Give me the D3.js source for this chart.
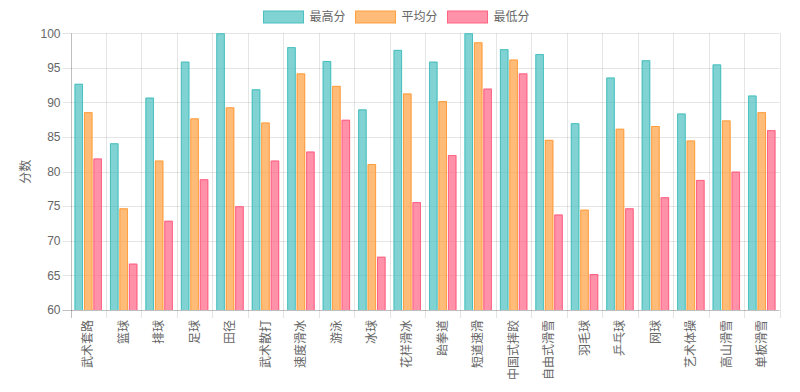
<!DOCTYPE html>
<html>
<head>
<meta charset="utf-8">
<script src="https://cdn.jsdelivr.net/npm/d3@7"></script>
<style>
  body { margin: 0; background: #fff; }
  text { font-family: "Liberation Sans", Arial, "Noto Sans CJK SC", sans-serif; fill: #666; }
</style>
</head>
<body>
<div id="chart"></div>
<script>
"use strict";

const categories = ["武术套路", "篮球", "排球", "足球", "田径", "武术散打", "速度滑冰", "游泳", "冰球", "花样滑冰",
  "跆拳道", "短道速滑", "中国式摔跤", "自由式滑雪", "羽毛球", "乒乓球", "网球", "艺术体操", "高山滑雪", "单板滑雪"];
const maxScores = [92.7, 84.1, 90.7, 95.9, 100, 91.9, 98.0, 96.0, 89.0, 97.6,
  95.9, 100, 97.7, 97.0, 87.0, 93.6, 96.1, 88.4, 95.5, 91.0];
const avgScores = [88.6, 74.7, 81.6, 87.7, 89.3, 87.1, 94.2, 92.4, 81.1, 91.3,
  90.2, 98.7, 96.2, 84.6, 74.5, 86.2, 86.6, 84.5, 87.4, 88.6];
const minScores = [81.9, 66.7, 72.9, 78.9, 75.0, 81.6, 82.9, 87.5, 67.7, 75.6,
  82.4, 92.0, 94.2, 73.8, 65.2, 74.7, 76.3, 78.8, 80.0, 86.0];
const seriesNames = ["最高分", "平均分", "最低分"];
const yTicks = [60, 65, 70, 75, 80, 85, 90, 95, 100];

const seriesColors = ["rgb(75,192,192)", "rgb(255,159,64)", "rgb(255,99,132)"];
const seriesFills = ["rgba(75,192,192,0.7)", "rgba(255,159,64,0.7)", "rgba(255,99,132,0.7)"];
const seriesValues = [maxScores, avgScores, minScores];

const width = 800, height = 392;
const plotLeft = 70.5, plotRight = 779.5, plotTop = 33.3, plotBottom = 310;

const svg = d3.select("#chart").append("svg")
  .attr("width", width)
  .attr("height", height);

const x0 = d3.scaleBand().domain(categories).range([plotLeft, plotRight]);
const bw = x0.bandwidth();
const x1 = d3.scaleBand().domain(seriesNames)
  .range([bw * 0.1, bw * 0.9])
  .paddingInner(0.1).paddingOuter(0.05);
const y = d3.scaleLinear().domain([60, 100]).range([plotBottom, plotTop]);

// horizontal grid
const grid = svg.append("g");
grid.selectAll("line.h").data(yTicks).enter().append("line")
  .attr("x1", plotLeft - 8).attr("x2", plotRight)
  .attr("y1", d => Math.round(y(d)) + 0.5).attr("y2", d => Math.round(y(d)) + 0.5)
  .attr("stroke", d => d === 60 ? "rgba(0,0,0,0.25)" : "rgba(0,0,0,0.1)");

// vertical grid
const vx = categories.map(c => x0(c)).concat([plotRight]);
grid.selectAll("line.v").data(vx).enter().append("line")
  .attr("x1", d => Math.round(d) + 0.5).attr("x2", d => Math.round(d) + 0.5)
  .attr("y1", plotTop).attr("y2", plotBottom + 8)
  .attr("stroke", (d, i) => i === 0 ? "rgba(0,0,0,0.25)" : "rgba(0,0,0,0.1)");

// y tick labels
svg.append("g").selectAll("text").data(yTicks).enter().append("text")
  .attr("x", plotLeft - 10)
  .attr("y", d => y(d))
  .attr("dy", "0.35em")
  .attr("text-anchor", "end")
  .style("font-size", "12px")
  .text(d => d);

// y title
svg.append("text")
  .attr("transform", "translate(30," + ((plotTop + plotBottom) / 2) + ") rotate(-90)")
  .attr("text-anchor", "middle")
  .style("font-size", "12px")
  .text("分数");

// x labels
svg.append("g").selectAll("text").data(categories).enter().append("text")
  .attr("transform", d => "translate(" + (x0(d) + bw / 2) + "," + (plotBottom + 10) + ") rotate(-90)")
  .attr("text-anchor", "end")
  .attr("dy", "0.35em")
  .style("font-size", "12px")
  .text(d => d);

// bars
seriesNames.forEach((name, si) => {
  const g = svg.append("g");
  const vals = seriesValues[si];
  const bars = g.selectAll("g").data(categories).enter().append("g");
  bars.append("rect")
    .attr("x", d => x0(d) + x1(name))
    .attr("y", (d, i) => y(vals[i]))
    .attr("width", x1.bandwidth())
    .attr("height", (d, i) => plotBottom - y(vals[i]))
    .attr("fill", seriesFills[si]);
  bars.append("path")
    .attr("d", (d, i) => {
      const bx = x0(d) + x1(name), by = y(vals[i]), w = x1.bandwidth();
      return "M" + (bx + 0.5) + "," + plotBottom + "V" + (by + 0.5) + "H" + (bx + w - 0.5) + "V" + plotBottom;
    })
    .attr("fill", "none")
    .attr("stroke", seriesColors[si])
    .attr("stroke-width", 1);
});

// legend
const legendX = [263.5, 355.5, 447.5];
const legend = svg.append("g");
seriesNames.forEach((name, i) => {
  legend.append("rect")
    .attr("x", legendX[i]).attr("y", 11)
    .attr("width", 40).attr("height", 12)
    .attr("fill", seriesFills[i])
    .attr("stroke", seriesColors[i]);
  legend.append("text")
    .attr("x", legendX[i] + 46).attr("y", 17)
    .attr("dy", "0.35em")
    .style("font-size", "12px")
    .text(name);
});
</script>
</body>
</html>
